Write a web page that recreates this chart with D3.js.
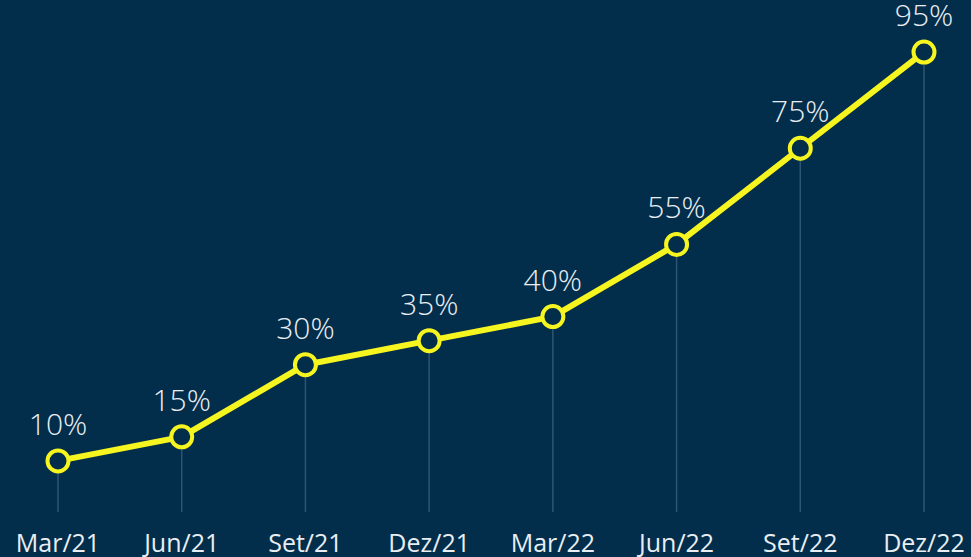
<!DOCTYPE html>
<html>
<head>
<meta charset="utf-8">
<script src="https://cdn.jsdelivr.net/npm/d3@7"></script>
<style>
  html, body { margin: 0; padding: 0; background: #022d4b; }
  svg { display: block; }
</style>
</head>
<body>
<div id="chart"></div>
<script>
var width = 971;
var height = 557;

var periods = ["Mar/21", "Jun/21", "Set/21", "Dez/21", "Mar/22", "Jun/22", "Set/22", "Dez/22"];
var values = [10, 15, 30, 35, 40, 55, 75, 95];

var margin = { left: 58, right: 47, top: 28, bottom: 48 };

var svg = d3.select("#chart").append("svg")
  .attr("width", width)
  .attr("height", height);

svg.append("rect")
  .attr("width", width)
  .attr("height", height)
  .attr("fill", "#022d4b");

var x = d3.scalePoint()
  .domain(periods)
  .range([margin.left, width - margin.right]);

var y = d3.scaleLinear()
  .domain([0, 100])
  .range([height - margin.bottom, margin.top]);

var data = periods.map(function (p, i) { return { label: p, value: values[i] }; });

// drop lines
svg.append("g")
  .selectAll("line")
  .data(data)
  .enter()
  .append("line")
  .attr("x1", function (d) { return x(d.label); })
  .attr("x2", function (d) { return x(d.label); })
  .attr("y1", function (d) { return y(d.value); })
  .attr("y2", y(0) + 3)
  .attr("stroke", "#2f5670")
  .attr("stroke-width", 1.5);

var line = d3.line()
  .x(function (d) { return x(d.label); })
  .y(function (d) { return y(d.value); });

svg.append("path")
  .datum(data)
  .attr("d", line)
  .attr("fill", "none")
  .attr("stroke", "#f6f51f")
  .attr("stroke-width", 6)
  .attr("stroke-linejoin", "round");

svg.append("g")
  .selectAll("circle")
  .data(data)
  .enter()
  .append("circle")
  .attr("cx", function (d) { return x(d.label); })
  .attr("cy", function (d) { return y(d.value); })
  .attr("r", 10.5)
  .attr("fill", "#022d4b")
  .attr("stroke", "#f6f51f")
  .attr("stroke-width", 4);

svg.append("g")
  .attr("font-family", "'Open Sans', Lato, sans-serif")
  .attr("font-weight", 300)
  .attr("font-size", 30)
  .attr("fill", "#e9eef2")
  .attr("text-anchor", "middle")
  .selectAll("text")
  .data(data)
  .enter()
  .append("text")
  .attr("x", function (d) { return x(d.label); })
  .attr("y", function (d) { return y(d.value) - 26; })
  .text(function (d) { return d.value + "%"; });

svg.append("g")
  .attr("font-family", "'Open Sans', Lato, sans-serif")
  .attr("font-weight", 400)
  .attr("font-size", 25)
  .attr("fill", "#e9eef2")
  .attr("text-anchor", "middle")
  .selectAll("text")
  .data(data)
  .enter()
  .append("text")
  .attr("x", function (d) { return x(d.label); })
  .attr("y", 552)
  .text(function (d) { return d.label; });
</script>
</body>
</html>
